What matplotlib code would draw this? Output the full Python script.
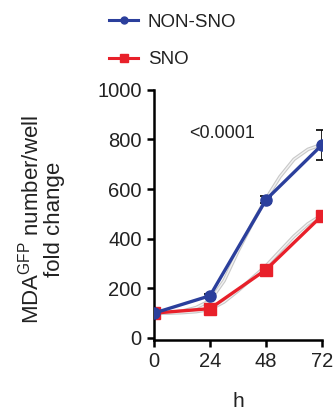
import numpy as np
import matplotlib.pyplot as plt
from matplotlib.lines import Line2D

plt.rcParams['font.family'] = ['Liberation Sans', 'DejaVu Sans']

# data
horas = [0, 24, 48, 72]
non_sno = [100, 170, 557, 778]
non_sno_err = [6, 8, 14, 60]
sno = [100, 118, 275, 493]
sno_err = [5, 6, 10, 12]

# grey fitted curves (read at 6 h steps)
fit_h = [0, 6, 12, 18, 24, 30, 36, 42, 48, 54, 60, 66, 72]
fit_non_sno = [100, 102, 108, 122, 150, 230, 350, 460, 560, 650, 720, 760, 780]
fit_sno = [100, 100, 102, 106, 115, 145, 190, 240, 290, 350, 410, 460, 495]

azul = '#2b3f9c'
rojo = '#e8202a'
texto = '#222222'

fig = plt.figure(figsize=(3.33, 4.12), dpi=100)
ax = fig.add_axes([0.4625, 0.175, 0.5045, 0.607])

for curva in (fit_non_sno, fit_sno):
    ax.plot(fit_h, curva, color='#c8c8c8', lw=2.6, zorder=1)
    ax.plot(fit_h, curva, color='#f2f2f2', lw=1.0, zorder=1)

ax.errorbar(horas, non_sno, yerr=non_sno_err, color=azul, marker='o', ms=8,
            lw=2.4, ecolor='black', elinewidth=1.2, capsize=4.5, capthick=1.2,
            zorder=3)
ax.errorbar(horas, sno, yerr=sno_err, color=rojo, marker='s', ms=8,
            lw=2.4, ecolor='black', elinewidth=1.2, capsize=4.5, capthick=1.2,
            zorder=2)

ax.set_xlim(0, 72)
ax.set_ylim(-8, 1000)
ax.set_xticks(horas)
ax.set_yticks([0, 200, 400, 600, 800, 1000])
ax.spines['top'].set_visible(False)
ax.spines['right'].set_visible(False)
ax.spines['left'].set_linewidth(1.8)
ax.spines['bottom'].set_linewidth(1.8)
ax.tick_params(width=1.8, length=5, labelsize=14.5, colors='black',
               labelcolor=texto, pad=4)
ax.set_xlabel('h', fontsize=15, color=texto, labelpad=15)
ax.set_ylabel('MDA$^{\\mathregular{GFP}}$ number/well\nfold change',
              fontsize=16, color=texto, linespacing=1.0)
ax.yaxis.set_label_coords(-0.53, 0.48)
ax.text(15, 805, '<0.0001', fontsize=13, color=texto)

handles = [Line2D([], [], color=azul, marker='o', ms=5, lw=2.2),
           Line2D([], [], color=rojo, marker='s', ms=6, lw=2.2)]
fig.legend(handles, ['NON-SNO', 'SNO'], loc='upper left',
           bbox_to_anchor=(0.30, 0.99), frameon=False, fontsize=13.5,
           handlelength=1.55, handletextpad=0.5, labelspacing=1.1,
           borderpad=0, labelcolor=texto)

fig.savefig('out.png', dpi=100)
